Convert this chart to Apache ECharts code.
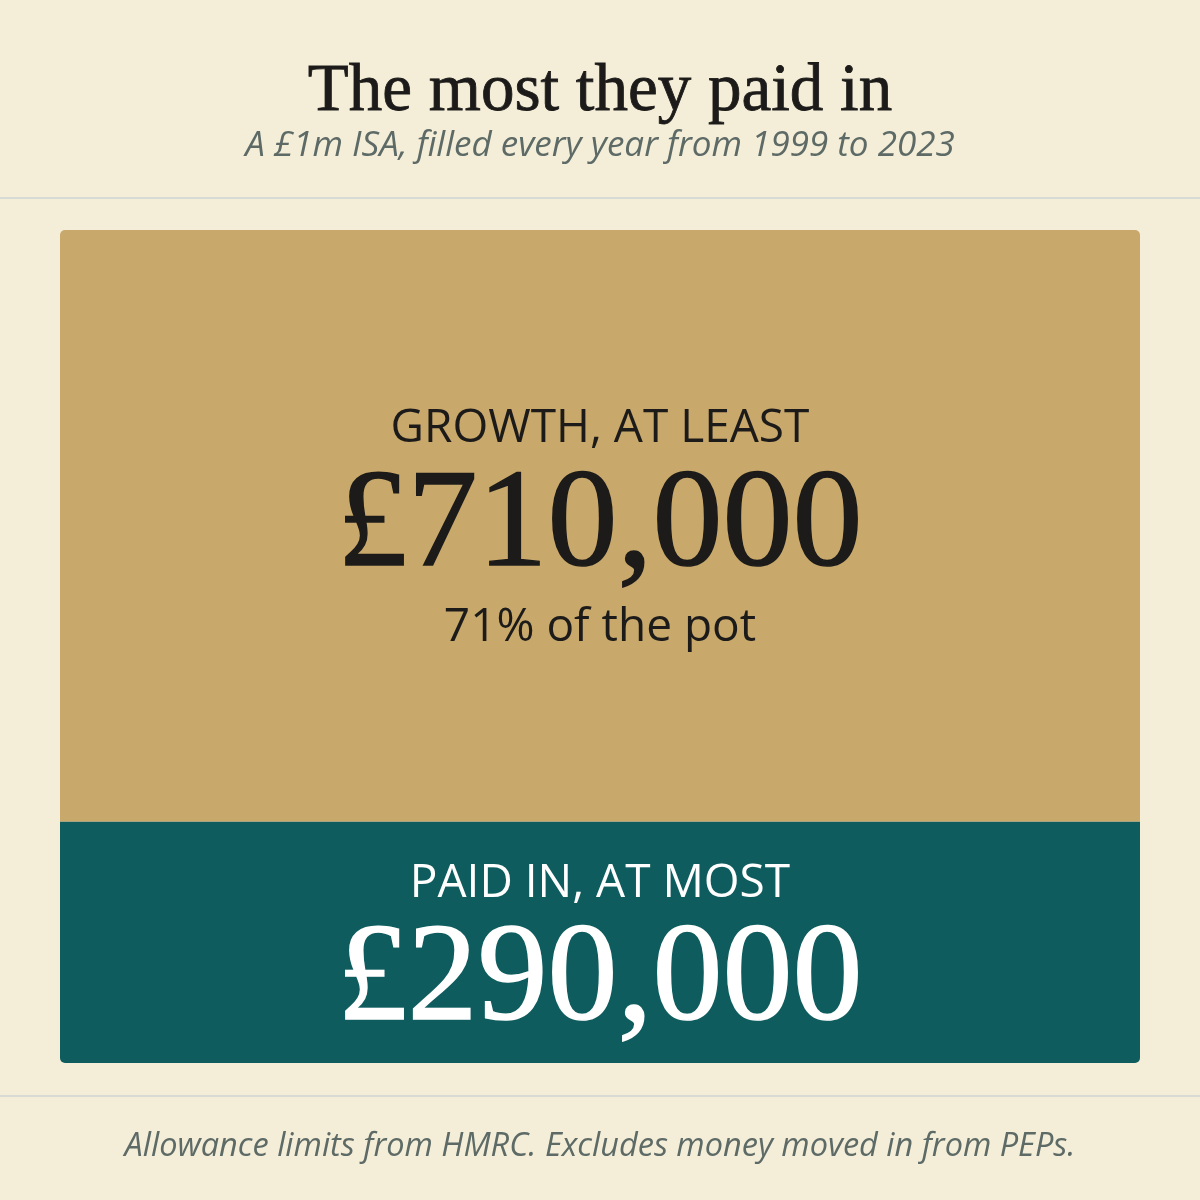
<!DOCTYPE html>
<html>
<head>
<meta charset="utf-8">
<script src="https://cdn.jsdelivr.net/npm/echarts@6/dist/echarts.min.js"></script>
<style>
  html, body { margin: 0; padding: 0; background: #f4eed9; }
  #main { width: 1200px; height: 1200px; }
</style>
</head>
<body>
<div id="main"></div>
<script>
// pot split, bottom segment first
const segments = ['Paid in', 'Growth'];
const segmentLabels = ['PAID IN, AT MOST', 'GROWTH, AT LEAST'];
const segmentValues = [290000, 710000];
const potTotal = 1000000;

const titleText = 'The most they paid in';
const subtitleText = 'A £1m ISA, filled every year from 1999 to 2023';
const footnoteText = 'Allowance limits from HMRC. Excludes money moved in from PEPs.';

const serif = '"Liberation Serif", "DejaVu Serif", serif';
const sans = '"Open Sans", Lato, sans-serif';
const ink = '#1c1b19';

const fmtMoney = v => '£' + v.toLocaleString('en-GB');

const myChart = echarts.init(document.getElementById('main'));

const option = {
    backgroundColor: '#f4eed9',
    animation: false,
    title: [
        {
            text: titleText,
            subtext: subtitleText,
            left: 'center',
            top: 54,
            itemGap: 2,
            textStyle: {
                fontFamily: serif, fontSize: 67, fontWeight: 'normal', color: ink,
                textBorderColor: ink, textBorderWidth: 0.8
            },
            subtextStyle: { fontFamily: sans, fontSize: 35, fontStyle: 'italic', color: '#5d6a66' }
        },
        {
            text: footnoteText,
            left: 'center',
            top: 1125,
            textStyle: { fontFamily: sans, fontSize: 32.5, fontStyle: 'italic', fontWeight: 'normal', color: '#5d6a66' }
        }
    ],
    graphic: [
        { type: 'line', shape: { x1: 0, y1: 198, x2: 1200, y2: 198 }, style: { stroke: '#d7dbd6', lineWidth: 2 } },
        { type: 'line', shape: { x1: 0, y1: 1096, x2: 1200, y2: 1096 }, style: { stroke: '#d7dbd6', lineWidth: 2 } }
    ],
    grid: { left: 60, right: 60, top: 230, bottom: 137 },
    xAxis: { type: 'category', data: ['ISA'], show: false },
    yAxis: { type: 'value', min: 0, max: potTotal, show: false },
    series: [
        {
            name: segments[0],
            type: 'bar',
            stack: 'pot',
            barWidth: '100%',
            data: [segmentValues[0]],
            itemStyle: { color: '#0e5c5e', borderRadius: [0, 0, 5, 5] },
            label: {
                show: true,
                position: 'inside',
                offset: [0, 7],
                formatter: () => '{h|' + segmentLabels[0] + '}\n{v|' + fmtMoney(segmentValues[0]) + '}',
                rich: {
                    h: { fontFamily: sans, fontSize: 46, color: '#ffffff', lineHeight: 66, align: 'center' },
                    v: {
                        fontFamily: serif, fontSize: 140, color: '#ffffff', lineHeight: 130, align: 'center',
                        textBorderColor: '#ffffff', textBorderWidth: 1.5
                    }
                }
            }
        },
        {
            name: segments[1],
            type: 'bar',
            stack: 'pot',
            barWidth: '100%',
            data: [segmentValues[1]],
            itemStyle: { color: '#c8a86b', borderRadius: [5, 5, 0, 0] },
            label: {
                show: true,
                position: 'inside',
                offset: [0, 2],
                formatter: () => '{h|' + segmentLabels[1] + '}\n{v|' + fmtMoney(segmentValues[1]) +
                    '}\n{p|' + Math.round(segmentValues[1] / potTotal * 100) + '% of the pot}',
                rich: {
                    h: { fontFamily: sans, fontSize: 46, color: ink, lineHeight: 70, align: 'center' },
                    v: {
                        fontFamily: serif, fontSize: 140, color: ink, lineHeight: 130, align: 'center',
                        textBorderColor: ink, textBorderWidth: 1.5
                    },
                    p: { fontFamily: sans, fontSize: 46, color: ink, lineHeight: 68, align: 'center' }
                }
            }
        }
    ]
};

myChart.setOption(option);
</script>
</body>
</html>
